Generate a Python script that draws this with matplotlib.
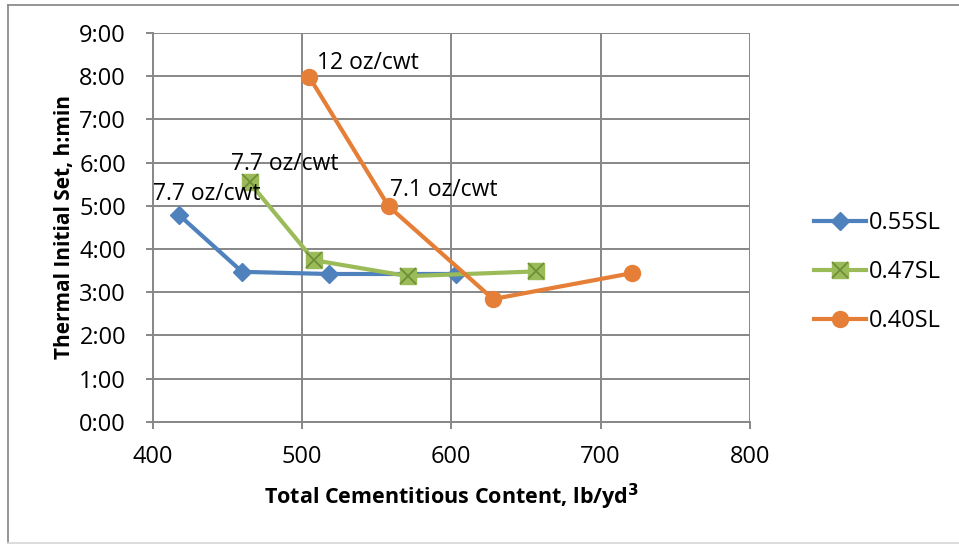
import matplotlib

matplotlib.use("Agg")
import matplotlib.pyplot as plt
from matplotlib.lines import Line2D
from matplotlib.ticker import FuncFormatter, MultipleLocator
from matplotlib.legend_handler import HandlerTuple

plt.rcParams["font.family"] = ["Open Sans", "DejaVu Sans"]

# cementitious content (lb/yd3) and thermal initial set (hours)
x_055 = [418, 460, 518, 603]
y_055 = [4.78, 3.47, 3.42, 3.42]
x_047 = [465, 508, 571, 657]
y_047 = [5.54, 3.74, 3.37, 3.48]
x_040 = [505, 558, 628, 721]
y_040 = [7.98, 4.99, 2.84, 3.44]

labels = ["0.55SL", "0.47SL", "0.40SL"]
notes = [
    ("7.7 oz/cwt", x_055[0], y_055[0]),
    ("7.7 oz/cwt", x_047[0], y_047[0]),
    ("12 oz/cwt", x_040[0], y_040[0]),
    ("7.1 oz/cwt", x_040[1], y_040[1]),
]

BLUE = "#4F81BD"
GREEN = "#9BBB59"
DKGREEN = "#6E8E3A"
ORANGE = "#E57F37"
GRID = "#878787"

W, H = 959, 544
fig = plt.figure(figsize=(W / 100, H / 100), dpi=100)
# chart-area border (runs off the right edge)
fig.add_artist(Line2D([8 / W, 8 / W], [1 - 4.5 / H, 1 - 543 / H], transform=fig.transFigure,
                      color="#8c8c8c", lw=1.3))
fig.add_artist(Line2D([8 / W, 1.0], [1 - 4.5 / H, 1 - 4.5 / H], transform=fig.transFigure,
                      color="#8c8c8c", lw=1.3))
fig.add_artist(Line2D([8 / W, 1.0], [1 - 543 / H, 1 - 543 / H], transform=fig.transFigure,
                      color="#d9d9d9", lw=1.3))

ax = fig.add_axes([152.5 / W, (H - 421.7) / H, (750 - 152.5) / W, (421.7 - 33) / H])

lw = 3.0
l1, = ax.plot(x_055, y_055, color=BLUE, lw=lw, marker="D", ms=9, zorder=3)
l2, = ax.plot(x_047, y_047, color=GREEN, lw=lw, marker="s", ms=11, zorder=4)
l2x, = ax.plot(x_047, y_047, ls="none", marker="x", ms=11, mew=1.3, color=DKGREEN, zorder=5)
l3, = ax.plot(x_040, y_040, color=ORANGE, lw=lw, marker="o", ms=11.5, zorder=6)

# label offsets in pixels from the point to the text's left baseline
offsets = [(-26, 15), (-19, 12), (8, 8), (1, 10)]
for (txt, xv, yv), (dx, dy) in zip(notes, offsets):
    ax.annotate(txt, (xv, yv), xytext=(dx, dy), textcoords="offset pixels",
                fontsize=16.5, ha="left", va="baseline", zorder=7)

ax.set_xlim(400, 800)
ax.set_ylim(0, 9)
ax.xaxis.set_major_locator(MultipleLocator(100))
ax.yaxis.set_major_locator(MultipleLocator(1))
ax.yaxis.set_major_formatter(FuncFormatter(lambda v, p: f"{int(v)}:{int(round((v % 1) * 60)):02d}"))
ax.grid(True, color=GRID, linewidth=1.4)
ax.set_axisbelow(True)
for side in ["top", "right"]:
    ax.spines[side].set_visible(False)
for side in ["left", "bottom"]:
    ax.spines[side].set_color(GRID)
    ax.spines[side].set_linewidth(1.4)
ax.tick_params(axis="both", direction="out", length=5, width=1.4, color=GRID,
               labelsize=17)
ax.tick_params(axis="x", pad=12)
ax.tick_params(axis="y", pad=14)

ax.set_xlabel("Total Cementitious Content, lb/yd$^\\mathbf{3}$", fontsize=15.5,
              fontweight="bold", labelpad=9)
ax.set_ylabel("Thermal Initial Set, h:min", fontsize=15, fontweight="bold", labelpad=3)

handles = [l1, (l2, l2x), l3]
leg = fig.legend(handles, labels, loc="center left", bbox_to_anchor=(805 / W, 1 - 272 / H),
                 frameon=False, fontsize=17, handlelength=2.2, handletextpad=0.1,
                 labelspacing=1.05, borderaxespad=0,
                 handler_map={tuple: HandlerTuple(ndivide=1, pad=0)})

fig.savefig("out.png", dpi=100)
